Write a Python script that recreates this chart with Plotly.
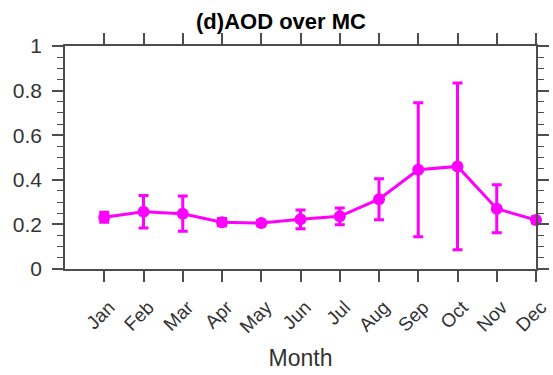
import plotly.graph_objects as go

months = ["Jan", "Feb", "Mar", "Apr", "May", "Jun", "Jul", "Aug", "Sep", "Oct", "Nov", "Dec"]
month_pos = [1, 2, 3, 4, 5, 6, 7, 8, 9, 10, 11, 12]
aod_mean = [0.232, 0.257, 0.248, 0.210, 0.206, 0.223, 0.236, 0.313, 0.445, 0.460, 0.270, 0.220]
aod_err = [0.022, 0.073, 0.079, 0.016, 0.012, 0.042, 0.038, 0.092, 0.300, 0.374, 0.108, 0.014]

MAG = "#FF00FF"
AX = "#4d4d4d"
FONT = "Liberation Sans, Arial, sans-serif"

fig = go.Figure()
fig.add_trace(go.Scatter(
    x=month_pos, y=aod_mean,
    mode="lines+markers",
    line=dict(color=MAG, width=3),
    marker=dict(color=MAG, size=12),
    error_y=dict(type="data", array=aod_err, visible=True, color=MAG, thickness=3, width=5),
    cliponaxis=False,
    showlegend=False,
))

fig.update_layout(
    width=553, height=375,
    margin=dict(l=65, r=17, t=46, b=106),
    paper_bgcolor="white", plot_bgcolor="white",
    font=dict(family=FONT, color="#333333"),
    title=dict(text="<b>(d)AOD over MC</b>", x=281 / 553, xanchor="center",
               y=1 - 21 / 375, yanchor="middle",
               font=dict(size=22, color="#000000", family=FONT)),
)
fig.update_xaxes(
    range=[0, 12], tickvals=month_pos, ticktext=months, tickangle=-45,
    tickfont=dict(size=19, color="#333333"),
    ticklabelshift=5, ticklabelstandoff=7, automargin=False,
    ticklabeloverflow="allow",
    showgrid=False, zeroline=False,
    showline=True, linecolor=AX, linewidth=1.5, mirror="allticks",
    ticks="outside", ticklen=11, tickwidth=1.5, tickcolor=AX,
    title=dict(text="Month", font=dict(size=23, color="#333333"), standoff=14),
)
fig.update_yaxes(
    range=[0, 1], tickvals=[0, 0.2, 0.4, 0.6, 0.8, 1], ticktext=["0", "0.2", "0.4", "0.6", "0.8", "1"],
    tickfont=dict(size=21, color="#333333"),
    ticklabelstandoff=6, automargin=False,
    showgrid=False, zeroline=False,
    showline=True, linecolor=AX, linewidth=1.5, mirror="allticks",
    ticks="outside", ticklen=11, tickwidth=1.5, tickcolor=AX,
    minor=dict(dtick=0.05, ticks="outside", ticklen=6, tickwidth=1.2, tickcolor=AX, showgrid=False),
)

fig.write_html(
    "out.html",
    config={"displayModeBar": False},
    post_script="document.body.style.margin='0';document.body.style.overflow='hidden';",
)
